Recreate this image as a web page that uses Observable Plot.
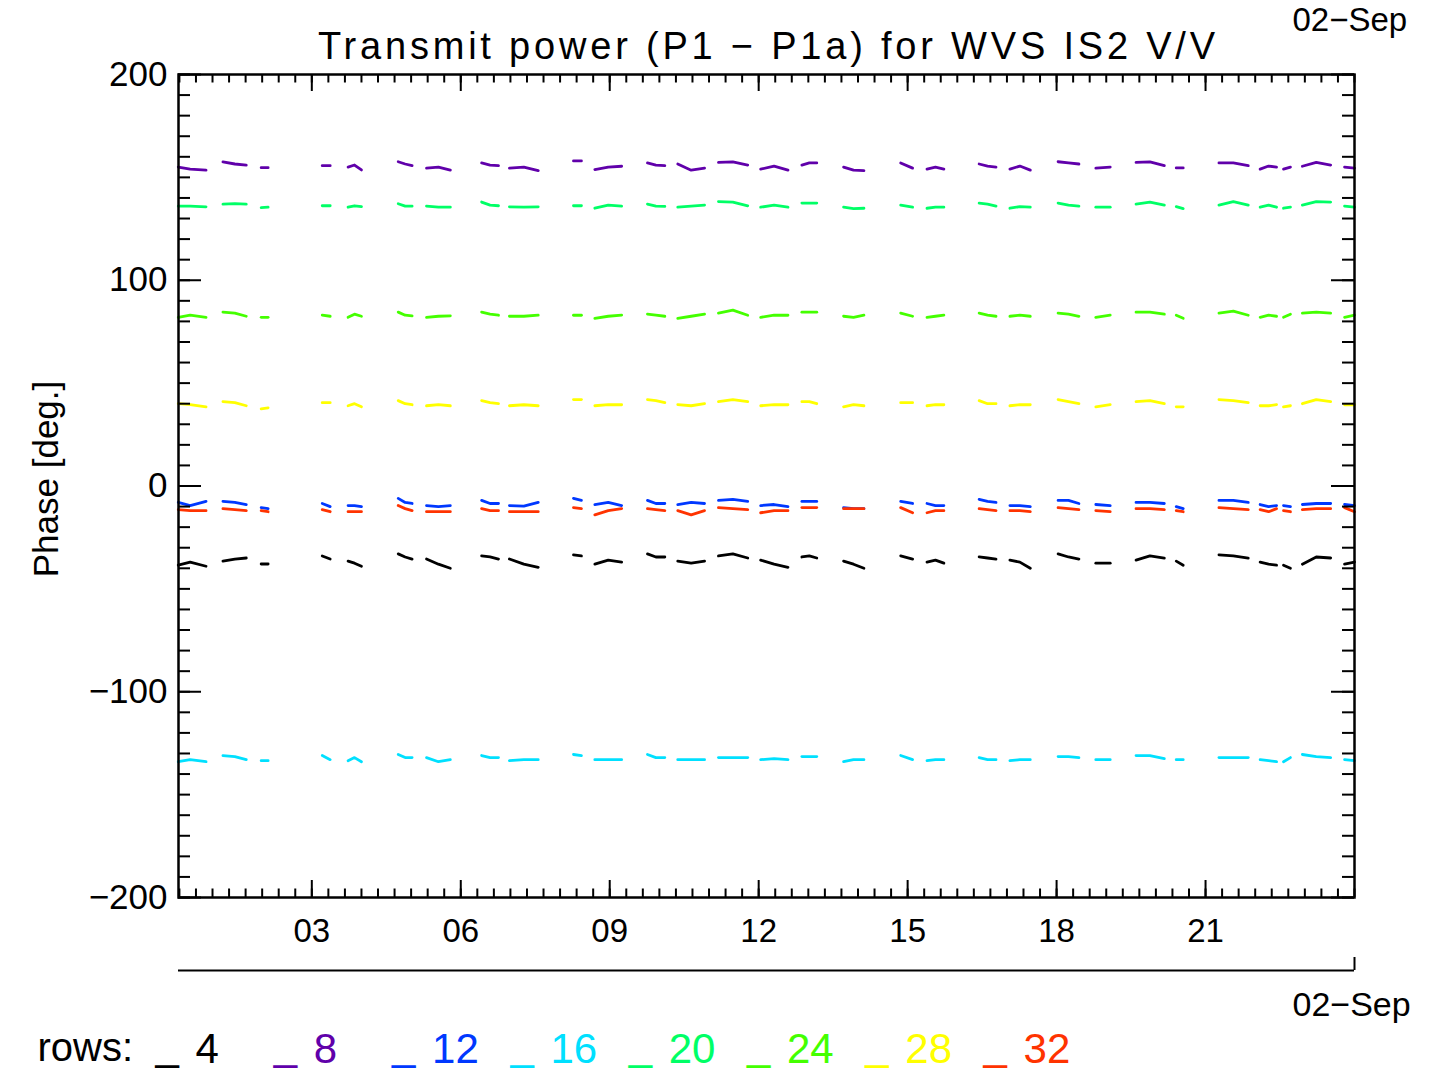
<!DOCTYPE html>
<html>
<head>
<meta charset="utf-8">
<script src="https://cdn.jsdelivr.net/npm/d3@7"></script>
<script src="https://cdn.jsdelivr.net/npm/@observablehq/plot@0.6"></script>
<style>
  html, body { margin: 0; padding: 0; background: #fff; }
  #wrap { position: relative; width: 1429px; height: 1079px; overflow: hidden; background: #fff; }
  #wrap svg { max-width: none !important; width: 1429px !important; height: 1079px !important; }
</style>
</head>
<body>
<div id="wrap"></div>
<script>
// ---- Data (hours of 02-Sep, phase in degrees) ----
const segmentHours = [
  [0.31, 0.55, 0.87], [1.21, 1.45, 1.68], [1.98, 2.12], [3.21, 3.37], [3.73, 3.86, 4.00],
  [4.74, 4.88, 5.02], [5.31, 5.55, 5.79], [6.42, 6.59, 6.76], [6.98, 7.27, 7.56], [8.27, 8.43],
  [8.70, 8.97, 9.24], [9.76, 9.93, 10.11], [10.37, 10.64, 10.91], [11.19, 11.48, 11.78], [12.04, 12.31, 12.59],
  [12.87, 13.02, 13.17], [13.71, 13.91, 14.12], [14.86, 15.10], [15.39, 15.56, 15.73], [16.44, 16.61, 16.78],
  [17.06, 17.26, 17.47], [18.03, 18.24, 18.45], [18.79, 19.08], [19.60, 19.88, 20.17], [20.41, 20.55],
  [21.27, 21.56, 21.86], [22.10, 22.27, 22.43], [22.57, 22.71], [22.95, 23.23, 23.52], [23.80, 24.00]
];

const row4 = [
  [-38.5, -37, -39], [-36.5, -35.5, -35], [-37.9, -37.9], [-34, -35.5], [-36.5, -37.5, -39],
  [-33, -34.5, -35.5], [-35.5, -38, -40], [-34, -34.5, -35.5], [-35.5, -38, -39.5], [-33.5, -34],
  [-38, -36, -37], [-33, -34.5, -34.5], [-36.5, -37.5, -36.5], [-34, -33, -35], [-36, -38, -39.5],
  [-34.5, -34, -35], [-36.5, -38, -40], [-34, -35.5], [-37, -36, -37.5], [-34.5, -35, -35.5],
  [-36, -37, -40], [-33, -34.5, -35.5], [-37.5, -37.5], [-36, -34, -35], [-36.5, -38.5],
  [-33.5, -34, -35], [-37, -38, -38.5], [-38.5, -40], [-38, -34.5, -35], [-38, -37]
];
const row8 = [
  [155, 154, 153.5], [157.5, 156.5, 156], [154.7, 154.7], [155.7, 155.7], [155, 156, 153.6],
  [157.6, 156.5, 155.7], [154.5, 155, 153.5], [157, 156, 155.7], [154.5, 155, 153.3], [158, 158],
  [153.8, 155, 155.4], [157, 156, 155.7], [156.5, 153.5, 154.5], [157.3, 157.5, 156], [154, 155.5, 153.5],
  [156, 157, 157], [155, 153.5, 153.3], [157, 154.5], [154, 155, 154], [156.5, 155.5, 155],
  [154, 155.5, 153.5], [157.6, 157, 156.5], [154.5, 155], [157.3, 157.5, 155.7], [154.6, 154.6],
  [157, 157, 155.7], [154, 155.5, 155], [154, 155], [155.4, 157.3, 156], [155, 154.5]
];
const row12 = [
  [-8, -9.5, -7.5], [-7.5, -8, -9], [-10.5, -11], [-8.5, -10], [-9.5, -9.5, -10],
  [-6, -8, -8.5], [-9.5, -10, -9.5], [-7, -8.5, -8.5], [-9.5, -9.8, -8], [-6, -7],
  [-9, -8, -9.5], [-7, -8.5, -8.5], [-9, -8, -8.5], [-7, -6.5, -7.5], [-9.5, -9, -10],
  [-7.5, -7.5, -7.5], [-10.5, -11, -11], [-7.5, -8.5], [-8.5, -9.5, -9.5], [-6.5, -7.5, -8],
  [-9.5, -9.5, -10], [-7, -7, -8.5], [-9, -9.5], [-8, -8, -8.5], [-10, -11],
  [-7, -7, -8], [-9, -10, -9.5], [-9.5, -10], [-9, -8.5, -8.5], [-9, -9.5]
];
const row16 = [
  [-134, -133, -134], [-131, -131.5, -133], [-133.5, -133.5], [-131, -133], [-133.5, -132, -134],
  [-130.5, -132, -132], [-132, -134, -133], [-131, -132, -132], [-133.5, -133, -133], [-130.5, -131],
  [-133, -133, -133], [-130.5, -132, -132], [-133, -133, -133], [-132, -132, -132], [-133, -132.5, -133],
  [-131.5, -131.5, -131.5], [-134, -133, -133], [-131, -133], [-133.5, -133, -133], [-132, -133, -133],
  [-133.5, -133, -133], [-131.5, -131.5, -132], [-133, -133], [-131, -131, -132.5], [-133, -133],
  [-132, -132, -132], [-133, -133.5, -134], [-134, -132], [-130.5, -131.5, -132], [-133, -133.5]
];
const row20 = [
  [136, 136, 135.7], [137, 137.2, 137], [135.3, 135.5], [136.2, 136.2], [135.5, 136.2, 135.8],
  [137.2, 136, 136], [136, 135.5, 135.5], [138, 136.5, 136.2], [135.7, 135.5, 135.7], [136.2, 136.2],
  [135, 136.5, 136], [137, 136, 135.9], [135.5, 136, 136.5], [138.2, 138, 136.2], [135.5, 136.5, 135.5],
  [137.5, 137.5, 137.5], [135.5, 134.8, 135], [136.5, 135.5], [135, 135.5, 135.5], [137.5, 137, 136],
  [135, 135.8, 135.5], [137.5, 136.5, 136], [135.5, 135.5], [137, 138, 136.5], [135.8, 134.8],
  [136.5, 138.2, 136.5], [135.5, 136.5, 135.5], [135, 135.5], [136.5, 138.2, 138], [136, 135.5]
];
const row24 = [
  [82, 83, 82], [84.5, 84, 82.5], [82, 82], [83, 82.5], [82, 83.5, 82.5],
  [84.5, 83, 82.7], [82, 82.5, 82.7], [84.5, 83.5, 83], [82.5, 82.5, 83], [83, 83],
  [81.5, 82.5, 83], [83.5, 83, 82.5], [81.5, 82.5, 83.5], [84, 85.5, 83], [82, 83, 83],
  [84.5, 84.5, 84.5], [82.5, 82, 83], [84, 82.5], [82, 82.5, 83], [84, 83, 82.5],
  [82.5, 83, 82.5], [84, 83.5, 82.5], [82, 83], [84.5, 84.5, 83.5], [83, 81.5],
  [84, 85, 83], [82, 83, 82.5], [82, 83.5], [84, 84.5, 84], [82, 83]
];
const row28 = [
  [40, 39.5, 38.5], [41, 40.5, 39], [37.5, 38], [40.5, 40.5], [39, 40, 38.5],
  [41.5, 40, 39.5], [39, 39.5, 39], [41.5, 40.5, 40], [39, 39.5, 39], [42, 42],
  [39, 39.5, 39.5], [42, 41.5, 40.5], [39.5, 39, 40], [41, 42, 41], [39, 39.5, 39.5],
  [41, 41, 40], [38.5, 39.5, 39], [40.5, 40.5], [39, 39.5, 39.5], [41.5, 40, 40],
  [39, 39.5, 39.5], [42, 41, 40], [38.5, 39.5], [41, 41.5, 40], [38.5, 38.5],
  [42, 41.5, 40.5], [39, 39, 39.5], [38.5, 39], [40, 42, 41], [39.5, 39.5]
];
const row32 = [
  [-11.5, -12, -12], [-11, -11.5, -12], [-12, -12.5], [-11.5, -12.5], [-12.5, -12.5, -12.5],
  [-9.5, -11, -12], [-12.5, -12.5, -12.5], [-11, -12, -12], [-12.5, -12.5, -12.5], [-10.5, -11],
  [-14, -12, -11], [-11, -11.5, -12], [-12, -14, -12], [-10.5, -11, -11.5], [-13, -12, -12],
  [-10.5, -10.5, -10.5], [-11, -11, -11], [-10.5, -13], [-13, -12, -12], [-11, -11.5, -12],
  [-12, -12, -12.5], [-10.5, -11, -11.5], [-12, -12.5], [-11, -11, -11.5], [-12, -12.5],
  [-10.5, -11, -11.5], [-11.5, -12.5, -11], [-12, -12.5], [-11.5, -11, -11], [-10.5, -12.5]
];

const rows = [4, 8, 12, 16, 20, 24, 28, 32];
const rowValues = [row4, row8, row12, row16, row20, row24, row28, row32];
const rowColors = ["#000000", "#6000aa", "#0038ff", "#00e0ff", "#00ff66", "#44ff00", "#ffff00", "#ff3300"];

const yMajorTicks = [-200, -100, 0, 100, 200];
const xMajorTicks = [3, 6, 9, 12, 15, 18, 21];
const xDomain = [0.315, 24];
const yDomain = [-200, 200];
const titleText = "Transmit power (P1 \u2212 P1a) for WVS IS2 V/V";
const yLabel = "Phase [deg.]";
const dateLabel = "02\u2212Sep";

// ---- Build table ----
const points = [];
rows.forEach((r, k) => {
  rowValues[k].forEach((seg, s) => {
    seg.forEach((v, j) => points.push({t: segmentHours[s][j], v, row: r, key: r + "-" + s}));
  });
});

const yMinorTicks = d3.range(-200, 201, 10);
const xMinorTicks = d3.range(1, 73).map(i => i / 3).filter(h => h >= xDomain[0] && h <= xDomain[1]);

const W = 1429, H = 1079, ML = 178, MR = 75, MT = 74, MB = 182;
const fw = W - ML - MR, fh = H - MT - MB;
const FONT = "Liberation Sans, Arial, sans-serif";

const legendMarks = [];
rows.forEach((r, i) => {
  const x0 = 155 + i * 118.3;
  legendMarks.push(Plot.text(["_"], {text: d => d, frameAnchor: "bottom-left", textAnchor: "start", lineAnchor: "middle",
    dx: x0 - ML, dy: 149, fontSize: 42, fill: rowColors[i]}));
  legendMarks.push(Plot.text([String(r)], {text: d => d, frameAnchor: "bottom-left", textAnchor: "start", lineAnchor: "middle",
    dx: x0 + 40 - ML, dy: 152, fontSize: 42, fill: rowColors[i]}));
});

const chart = Plot.plot({
  width: W, height: H,
  marginLeft: ML, marginRight: MR, marginTop: MT, marginBottom: MB,
  x: {domain: xDomain, axis: null, label: null},
  y: {domain: yDomain, axis: null, label: null},
  color: {type: "ordinal", domain: rows, range: rowColors},
  style: {fontFamily: FONT, background: "white", color: "black", overflow: "visible"},
  marks: [
    Plot.line(points, {x: "t", y: "v", z: "key", stroke: "row", strokeWidth: 2.8}),
    // inward ticks
    Plot.tickY(yMinorTicks, {y: d => d, insetRight: fw - 12, strokeWidth: 2}),
    Plot.tickY(yMinorTicks, {y: d => d, insetLeft: fw - 12, strokeWidth: 2}),
    Plot.tickY(yMajorTicks, {y: d => d, insetRight: fw - 23, strokeWidth: 2}),
    Plot.tickY(yMajorTicks, {y: d => d, insetLeft: fw - 23, strokeWidth: 2}),
    Plot.tickX(xMinorTicks, {x: d => d, insetTop: fh - 8.5, strokeWidth: 2}),
    Plot.tickX(xMinorTicks, {x: d => d, insetBottom: fh - 8.5, strokeWidth: 2}),
    Plot.tickX(xMajorTicks, {x: d => d, insetTop: fh - 17, strokeWidth: 2}),
    Plot.tickX(xMajorTicks, {x: d => d, insetBottom: fh - 17, strokeWidth: 2}),
    Plot.frame({stroke: "black", strokeWidth: 2.5}),
    Plot.axisY(yMajorTicks, {tickSize: 0, tickPadding: 11, fontSize: 35, label: null}),
    Plot.axisX(xMajorTicks, {tickSize: 0, tickPadding: 21, fontSize: 33, label: null, tickFormat: d => String(d).padStart(2, "0")}),
    // secondary date axis
    Plot.ruleY([yDomain[0]], {y: d => d, dy: 73, strokeWidth: 2}),
    Plot.tickX([xDomain[1]], {x: d => d, insetTop: fh - 13, dy: 73, strokeWidth: 2}),
    // texts
    Plot.text([titleText], {text: d => d, frameAnchor: "top", lineAnchor: "middle", dy: -28, fontSize: 38}),
    Plot.text([dateLabel], {text: d => d, frameAnchor: "top-right", textAnchor: "start", lineAnchor: "middle", dx: 1292 - (W - MR), dy: -54, fontSize: 33}),
    Plot.text([dateLabel], {text: d => d, frameAnchor: "bottom-right", textAnchor: "start", lineAnchor: "middle", dx: 1292 - (W - MR), dy: 108, fontSize: 34}),
    Plot.text([yLabel], {text: d => d, frameAnchor: "left", textAnchor: "middle", lineAnchor: "middle", rotate: -90, dx: 46 - ML, dy: -7, fontSize: 35}),
    Plot.text(["rows:"], {text: d => d, frameAnchor: "bottom-left", textAnchor: "start", lineAnchor: "middle", dx: 37 - ML, dy: 151, fontSize: 40}),
    ...legendMarks
  ]
});
// widen title letter spacing to match the reference's spaced lettering
d3.select(chart).selectAll("text")
  .filter(function() { return this.textContent === titleText; })
  .style("letter-spacing", "3.8px")
  .attr("dx", "1.9px");
document.getElementById("wrap").appendChild(chart);
</script>
</body>
</html>
